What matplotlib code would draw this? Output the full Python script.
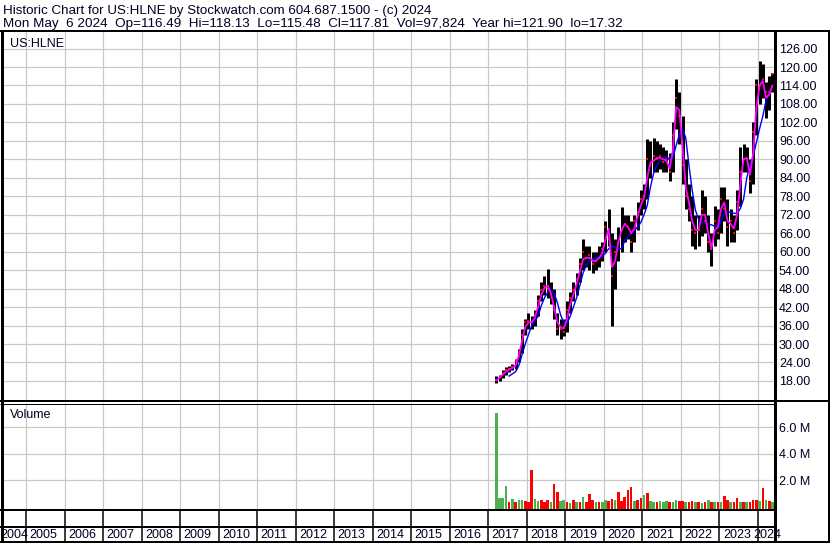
import numpy as np
import pandas as pd
import matplotlib
matplotlib.use("Agg")
import matplotlib.pyplot as plt

W, H = 830, 543
INK = "#000022"
GRID = "#c8c8c8"
GREEN = "#4cb04c"
plt.rcParams["font.family"] = ["Liberation Sans", "DejaVu Sans"]

# monthly bars, Mar 2017 .. May 2024
months = pd.period_range("2017-03", "2024-05", freq="M")

high = [19.5, 20.0, 21.5, 22.5, 23.0, 23.5, 25.0, 28.5, 35.0, 38.0,
        40.0, 39.0, 41.0, 46.0, 50.0, 52.0, 54.5, 50.0, 48.0, 40.0, 38.0, 38.0,
        44.0, 47.0, 50.0, 53.0, 58.0, 64.0, 62.0, 62.0, 60.0, 60.0, 62.0, 63.0,
        70.0, 74.0, 66.0, 64.0, 68.0, 74.5, 72.0, 72.0, 70.0, 72.0, 76.0, 80.0,
        82.0, 96.5, 96.0, 97.0, 96.0, 95.0, 94.0, 93.0, 92.0, 102.0, 116.0, 112.0,
        104.0, 90.0, 82.0, 78.0, 72.0, 72.0, 80.0, 78.0, 72.0, 66.0, 75.0, 74.0,
        81.0, 81.0, 77.0, 74.0, 72.0, 80.0, 94.0, 95.0, 94.0, 90.0, 102.0, 116.0,
        121.9, 121.0, 115.0, 117.0, 118.1]
low = [17.3, 18.0, 19.0, 20.0, 21.0, 21.5, 22.0, 24.0, 27.0, 33.0,
       35.0, 35.0, 36.0, 39.0, 44.0, 46.0, 45.0, 43.0, 38.0, 33.0, 31.5, 32.5,
       34.0, 40.0, 44.0, 46.0, 50.0, 54.0, 55.0, 54.0, 53.0, 54.0, 55.0, 57.0,
       60.0, 62.0, 36.0, 48.0, 57.0, 60.0, 63.0, 64.0, 60.0, 63.0, 67.0, 72.0,
       74.0, 77.0, 84.0, 86.0, 86.0, 87.0, 86.0, 86.0, 83.0, 86.0, 100.0, 95.0,
       82.0, 74.0, 70.0, 62.0, 61.0, 62.0, 65.0, 66.0, 60.0, 55.5, 62.0, 64.0,
       66.0, 70.0, 62.0, 63.0, 63.0, 67.0, 75.0, 86.0, 86.0, 79.0, 82.0, 98.0,
       108.0, 110.0, 103.5, 106.0, 112.0]
close = [18.3, 19.3, 20.5, 21.5, 22.0, 22.5, 24.5, 27.5, 33.0, 37.0,
         37.5, 37.0, 39.5, 44.0, 47.5, 49.0, 48.0, 46.0, 41.0, 35.0, 35.0, 34.0,
         41.0, 45.0, 47.5, 51.0, 56.0, 60.0, 58.0, 59.0, 56.0, 57.0, 58.0, 61.0,
         68.0, 64.0, 52.0, 60.0, 63.0, 67.0, 69.0, 68.0, 63.0, 70.0, 73.0, 77.0,
         78.0, 90.0, 88.0, 91.0, 90.0, 91.0, 89.0, 90.0, 86.0, 98.0, 110.0, 104.0,
         88.0, 78.0, 74.0, 67.0, 66.0, 67.0, 74.0, 70.0, 63.0, 61.0, 70.0, 66.0,
         77.0, 74.0, 68.0, 70.0, 66.0, 76.0, 86.0, 90.0, 90.0, 83.0, 99.0, 114.0,
         114.0, 116.0, 112.0, 112.0, 117.8]
ma_short = [18.2, 19.0, 20.0, 21.0, 21.7, 22.2, 23.0, 26.0, 31.0, 35.5,
            37.0, 37.0, 38.5, 42.0, 46.0, 48.2, 49.0, 46.5, 42.0, 37.0, 35.5, 35.0,
            38.0, 43.0, 46.0, 49.5, 53.5, 57.5, 58.0, 58.0, 57.0, 57.0, 58.0, 59.5,
            64.0, 67.5, 55.0, 57.0, 63.0, 67.0, 69.0, 68.0, 66.0, 67.5, 71.5, 75.0,
            77.5, 84.0, 89.0, 89.5, 90.5, 90.5, 90.0, 89.5, 87.0, 93.0, 107.0, 106.0,
            94.0, 81.0, 76.0, 70.0, 67.0, 67.0, 72.0, 72.0, 66.0, 61.0, 67.0, 68.0,
            74.0, 76.0, 70.0, 69.0, 67.5, 72.0, 82.0, 90.0, 90.5, 85.0, 92.0, 107.0,
            114.0, 115.5, 110.0, 111.0, 114.0]
ma_long = [np.nan, np.nan, np.nan, np.nan, 19.6, 20.3, 21.0, 23.0, 26.5, 30.0,
           33.0, 36.0, 37.5, 39.0, 42.5, 45.0, 46.8, 47.6, 46.5, 43.5, 39.5, 37.0,
           36.7, 39.0, 42.0, 45.0, 49.0, 53.0, 55.5, 57.0, 57.6, 58.0, 58.2, 58.5,
           59.5, 61.0, 61.7, 61.5, 61.0, 61.0, 63.5, 65.0, 66.0, 67.0, 68.0, 69.5,
           72.0, 75.0, 81.0, 85.5, 88.0, 89.5, 90.5, 91.0, 89.8, 90.5, 94.5, 98.0,
           99.8, 97.0, 88.0, 80.0, 73.5, 70.5, 69.5, 69.3, 69.0, 68.7, 68.3, 67.5,
           70.0, 72.4, 73.0, 72.8, 72.5, 72.4, 74.0, 77.0, 84.0, 88.0, 91.0, 95.5,
           100.0, 104.0, 109.0, 111.5, 113.7]
volume_m = [7.1, 0.6, 0.65, 1.55, 0.35, 0.55, 0.3, 0.5, 0.45, 0.4,
            0.3, 2.75, 0.55, 0.4, 0.45, 0.35, 0.5, 0.35, 1.7, 1.1, 0.4, 0.5,
            0.3, 0.25, 0.45, 0.3, 0.35, 0.72, 0.35, 0.95, 0.5, 0.3, 0.3, 0.35,
            0.45, 0.4, 0.55, 0.45, 1.1, 0.4, 0.7, 1.25, 1.47, 0.4, 0.45, 0.6,
            0.85, 1.0, 0.4, 0.35, 0.3, 0.4, 0.35, 0.4, 0.3, 0.35, 0.45, 0.4,
            0.4, 0.3, 0.35, 0.4, 0.3, 0.3, 0.25, 0.3, 0.5, 0.35, 0.3, 0.3,
            0.3, 0.75, 0.45, 0.35, 0.3, 0.6, 0.35, 0.3, 0.35, 0.3, 0.45, 0.5,
            0.4, 1.4, 0.5, 0.4, 0.3]
vol_side = "ggggrgrggr" + "rrggrrrgrrgg" + "rgrgrgrrrgrg" + "grrgrrrrrgrr" + \
           "grggrgggrggr" + "rgrrgrgrgrgr" + "grrgrrgrgrrr" + "grgrg"

year_ticks = list(range(2005, 2025))
price_ticks = np.arange(18, 127, 6)
vol_ticks = [2, 4, 6]

t = months.year + (months.month - 0.5) / 12.0

# pixel geometry of the layout
S = 38.526          # px per year
X0 = 26             # px where 2005 starts
xlim = (2005 + (2 - X0) / S, 2005 + (775 - X0) / S)
px = 0.72           # one pixel in points


def rect(x0, y0, x1, y1):
    return [x0 / W, 1 - y1 / H, (x1 - x0) / W, (y1 - y0) / H]


fig = plt.figure(figsize=(W / 100, H / 100), dpi=100)

fig.text(3 / W, 1 - 14 / H, "Historic Chart for US:HLNE by Stockwatch.com 604.687.1500 - (c) 2024",
         fontsize=9.6, color=INK, va="baseline")
fig.text(3 / W, 1 - 27 / H,
         "Mon May  6 2024  Op=116.49  Hi=118.13  Lo=115.48  Cl=117.81  Vol=97,824  Year hi=121.90  lo=17.32",
         fontsize=9.7, color=INK, va="baseline")

# price panel
ax = fig.add_axes(rect(2, 31, 775, 400))
ax.set_xlim(*xlim)
ax.set_ylim(120 - (400 - 67) / 3.078, 120 + (67 - 31) / 3.078)
ax.set_xticks(year_ticks)
ax.set_xticklabels([])
ax.set_yticks(price_ticks)
ax.set_yticklabels([f"{v:.2f}" for v in price_ticks])
ax.yaxis.tick_right()
ax.tick_params(axis="both", length=0)
ax.tick_params(axis="y", pad=4 * px, labelsize=9, labelcolor=INK)
ax.grid(True, color=GRID, lw=1.2 * px)
ax.set_axisbelow(True)
for s in ax.spines.values():
    s.set_visible(False)

ax.vlines(t, low, high, color="black", lw=3.0 * px, zorder=2)
ax.scatter(t, close, marker="s", s=2.5, color="red", lw=0, zorder=3)
ax.plot(t, ma_long, color="#0000ff", lw=1.4 * px, zorder=4)
ax.plot(t, ma_short, color="#ff00ff", lw=1.8 * px, zorder=5)
ax.text(8 / 773, 1 - 16 / 369, "US:HLNE", transform=ax.transAxes,
        fontsize=9, color=INK, va="baseline")

# volume panel
v_zero, v_scale = 506.3, 13.15
vmin = -(509 - v_zero) / v_scale
vmax = (v_zero - 403) / v_scale
axv = fig.add_axes(rect(2, 403, 775, 509))
axv.set_xlim(*xlim)
axv.set_ylim(vmin, vmax)
axv.set_xticks(year_ticks)
axv.set_xticklabels([])
axv.set_yticks(vol_ticks)
axv.set_yticklabels([f"{v:.1f} M" for v in vol_ticks])
axv.yaxis.tick_right()
axv.tick_params(axis="both", length=0)
axv.tick_params(axis="y", pad=4 * px, labelsize=9, labelcolor=INK)
axv.grid(True, color=GRID, lw=1.2 * px)
axv.set_axisbelow(True)
for s in axv.spines.values():
    s.set_visible(False)
colors = [GREEN if c == "g" else "#ff0000" for c in vol_side]
axv.bar(t, np.array(volume_m) - vmin, bottom=vmin, width=0.8 / 12,
        color=colors, lw=0, zorder=2)
axv.text(8 / 773, 1 - 15 / 106, "Volume", transform=axv.transAxes,
         fontsize=9, color=INK, va="baseline")

# date rows
axd = fig.add_axes(rect(2, 509, 775, 542))
axd.set_xlim(*xlim)
axd.set_ylim(0, 1)
axd.axis("off")
axd.vlines(year_ticks, 0, 1, color="black", lw=1.5 * px)
for y in year_ticks[:-1]:
    axd.text(y + 3.5 / S, 0.22, str(y), fontsize=9, color=INK, va="center")
axd.text(2005 + (0.5 - X0) / S, 0.22, "2004", fontsize=9, color=INK, va="center")
axd.text(2005 + (753 - X0) / S, 0.22, "2024", fontsize=9, color=INK, va="center")

# frame lines in pixel space
axo = fig.add_axes([0, 0, 1, 1], zorder=10)
axo.set_xlim(0, W)
axo.set_ylim(H, 0)
axo.axis("off")
axo.patch.set_alpha(0)
frame = [
    ((0, W), (30.5, 30.5), 2.0),
    ((1.5, 1.5), (30, 542), 3.0),
    ((774.5, 774.5), (30, 542), 3.0),
    ((828.8, 828.8), (30, 542), 2.0),
    ((0, W), (400.5, 400.5), 2.0),
    ((0, 775), (403.5, 403.5), 1.0),
    ((0, 775), (509.5, 509.5), 2.0),
    ((0, 775), (527, 527), 2.0),
    ((0, W), (541.8, 541.8), 2.0),
]
for xs, ys, w in frame:
    axo.plot(xs, ys, color="black", lw=w * px, solid_capstyle="butt")

fig.savefig("out.png", dpi=100)
